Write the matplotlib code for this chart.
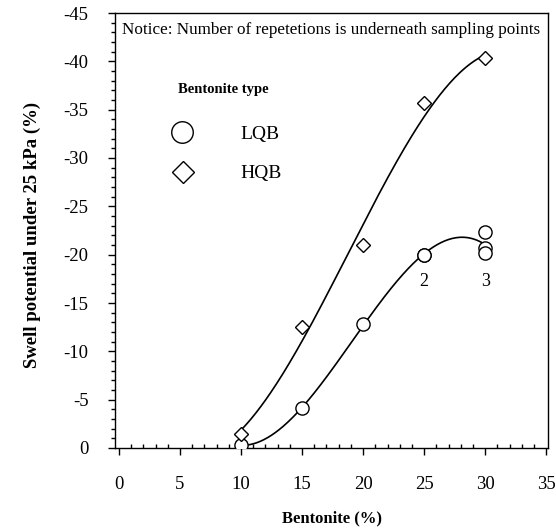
import numpy as np
import matplotlib
matplotlib.use("Agg")
import matplotlib.pyplot as plt
from matplotlib.ticker import MultipleLocator

plt.rcParams['font.family'] = ['Liberation Serif', 'DejaVu Serif']

# Swell potential measurements (%), repetitions listed individually
lqb_x = [10, 15, 20, 25, 25, 30, 30, 30]
lqb_y = [-0.3, -4.1, -12.8, -20.0, -20.0, -22.3, -20.7, -20.2]
hqb_x = [10, 15, 20, 25, 30]
hqb_y = [-1.5, -12.5, -21.0, -35.7, -40.3]

rep_labels = [(25, "2"), (30, "3")]

x_ticks = [0, 5, 10, 15, 20, 25, 30, 35]
y_ticks = [0, -5, -10, -15, -20, -25, -30, -35, -40, -45]

fig = plt.figure(figsize=(5.56, 5.30), dpi=100)
ax = fig.add_axes([115 / 556, 1 - 448 / 530, (548 - 115) / 556, (448 - 13) / 530])


def cubic_trend(x, y):
    """Cubic least-squares trend through the mean value at each dosage."""
    x = np.asarray(x, float)
    y = np.asarray(y, float)
    ux = np.unique(x)
    uy = np.array([y[x == v].mean() for v in ux])
    return np.polyfit(ux, uy, 3)


xs = np.linspace(10, 30, 200)
for x, y in ((lqb_x, lqb_y), (hqb_x, hqb_y)):
    ax.plot(xs, np.polyval(cubic_trend(x, y), xs), color='black', lw=1.2, zorder=2)

ax.plot(lqb_x, lqb_y, ls='none', marker='o', ms=9.5, mfc='white', mec='black',
        mew=1.0, zorder=3)
ax.plot(hqb_x, hqb_y, ls='none', marker='D', ms=7, mfc='white', mec='black',
        mew=1.0, zorder=3)

for xv, txt in rep_labels:
    ax.annotate(txt, (xv, -20), xytext=(0, -19), textcoords='offset points',
                ha='center', va='center', fontsize=13)

ax.set_xlim(-0.33, 35.15)
ax.set_ylim(0, -45)
ax.set_xticks(x_ticks)
ax.set_yticks(y_ticks)
ax.set_yticklabels([str(v) for v in y_ticks])
ax.xaxis.set_minor_locator(MultipleLocator(1))
ax.yaxis.set_minor_locator(MultipleLocator(1))
ax.tick_params(axis='both', which='major', length=5, width=1, labelsize=13.5)
ax.tick_params(axis='x', which='major', direction='out', pad=15)
ax.tick_params(axis='x', which='minor', direction='in', length=3, width=1)
ax.tick_params(axis='y', which='major', direction='out', pad=14)
ax.tick_params(axis='y', which='minor', direction='out', length=3, width=1)
for s in ax.spines.values():
    s.set_linewidth(1.0)

ax.set_xlabel("Bentonite (%)", fontsize=12, fontweight='bold', labelpad=13)
ax.set_ylabel("Swell potential under 25 kPa (%)", fontsize=13.5, fontweight='bold')
ax.yaxis.set_label_coords(-0.17, 0.49)

ax.text(0.5, 0.96, "Notice: Number of repetetions is underneath sampling points",
        transform=ax.transAxes, ha='center', va='center', fontsize=12.3)

# Key for the two bentonite types
ax.text(0.249, 0.823, "Bentonite type", transform=ax.transAxes, ha='center',
        va='center', fontsize=10.5, fontweight='bold')
ax.plot([0.155], [0.7264], transform=ax.transAxes, ls='none', marker='o', ms=15.5,
        mfc='white', mec='black', mew=1.0, clip_on=False)
ax.plot([0.157], [0.6345], transform=ax.transAxes, ls='none', marker='D', ms=11.5,
        mfc='white', mec='black', mew=1.0, clip_on=False)
ax.text(0.2887, 0.7264, "LQB", transform=ax.transAxes, ha='left',
        va='center_baseline', fontsize=14)
ax.text(0.2887, 0.6345, "HQB", transform=ax.transAxes, ha='left',
        va='center_baseline', fontsize=14)

fig.savefig("out.png", dpi=100)
